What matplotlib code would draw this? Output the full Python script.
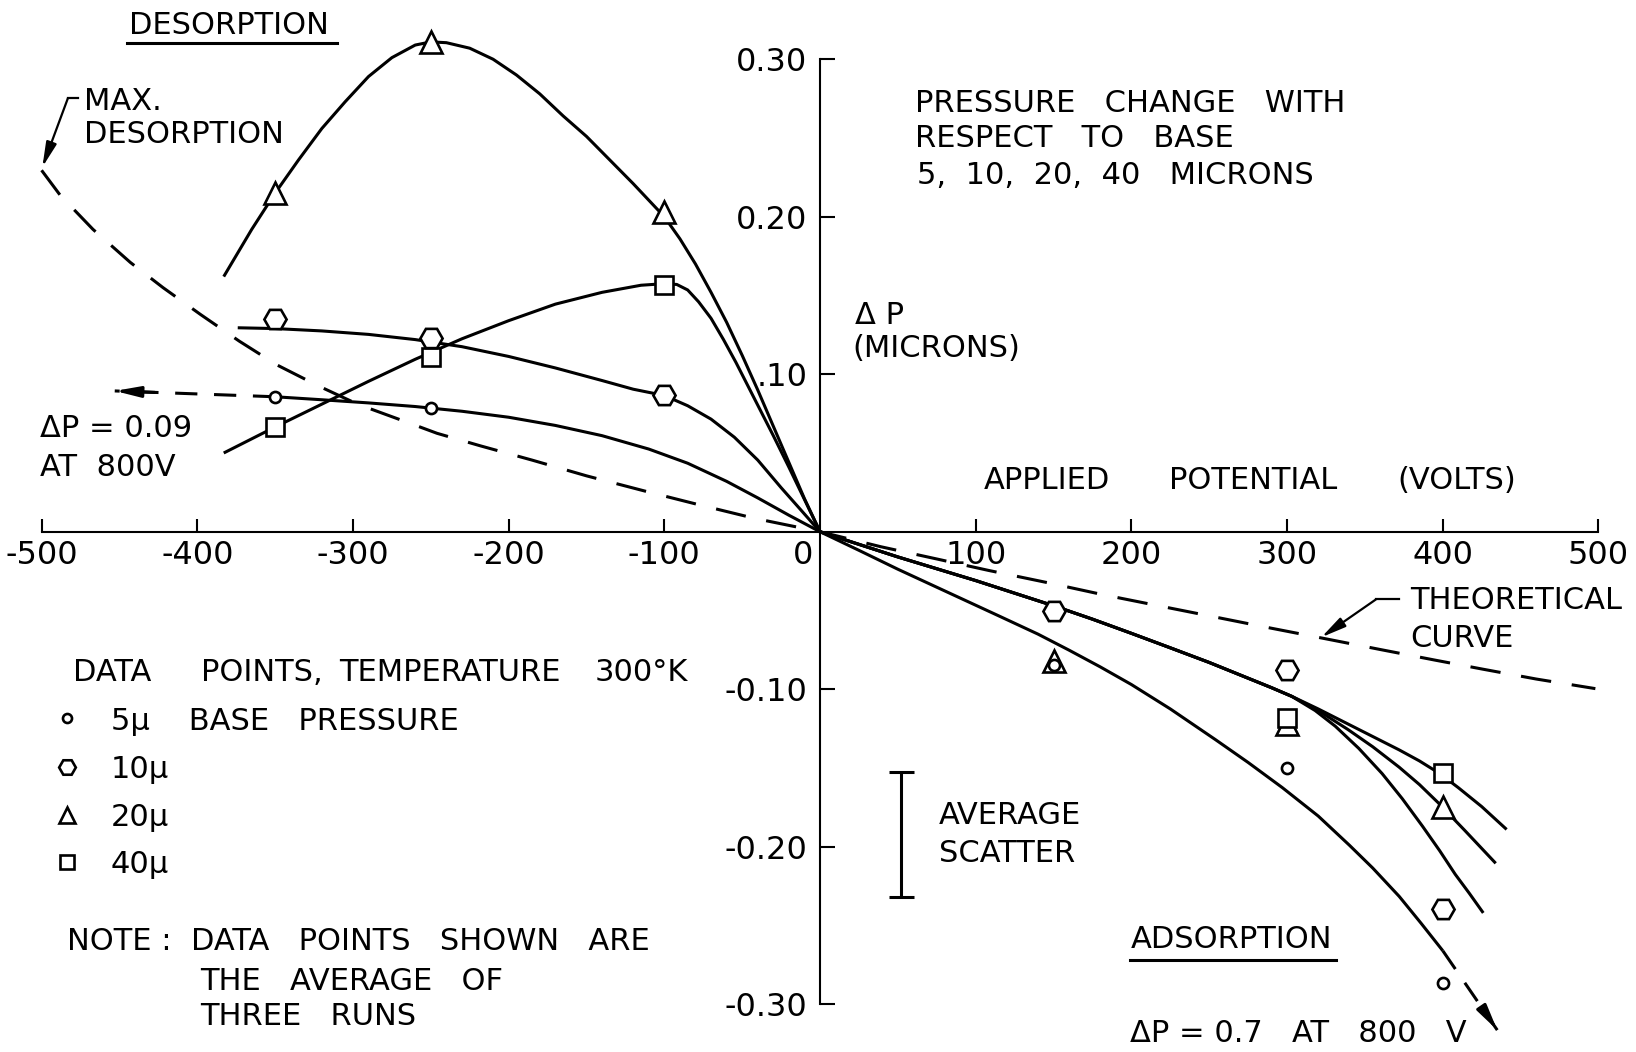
import matplotlib
matplotlib.use("Agg")
import matplotlib.pyplot as plt
from matplotlib import transforms

plt.rcParams["font.family"] = "DejaVu Sans"
plt.rcParams["lines.scale_dashes"] = False

# ---- data (volts, microns) ----
theory_v = [-500, -488, -467, -443, -422, -398, -373, -349, -322, -297, -261, -246, -218,
            -185, -150, -112, -78, -42, 0, 39, 76, 108, 147, 181, 220, 248, 286, 325,
            360, 395, 426, 460, 498]
theory_dp = [0.2295, 0.2136, 0.192, 0.171, 0.155, 0.138, 0.121, 0.106, 0.0925, 0.081,
             0.068, 0.0625, 0.0545, 0.0455, 0.0355, 0.0257, 0.0172, 0.0085, 0.0, -0.0095,
             -0.0175, -0.0245, -0.0325, -0.0398, -0.0475, -0.053, -0.0605, -0.068,
             -0.0748, -0.0815, -0.0873, -0.0935, -0.0996]

# fitted curves, desorption side (negative volts)
curve5_left_v = [-350, -320, -290, -260, -230, -200, -170, -140, -110, -85, -60, -40, -20, 0]
curve5_left_dp = [0.0857, 0.0838, 0.0818, 0.0795, 0.0765, 0.0727, 0.0675, 0.061, 0.0525,
                  0.0435, 0.032, 0.0215, 0.0105, 0]
curve10_left_v = [-374, -350, -320, -290, -260, -230, -200, -170, -140, -120, -100, -85,
                  -70, -55, -40, -25, -12, 0]
curve10_left_dp = [0.1295, 0.129, 0.1275, 0.1253, 0.122, 0.1175, 0.1113, 0.104, 0.096,
                   0.0905, 0.0865, 0.080, 0.0715, 0.060, 0.0455, 0.028, 0.0135, 0]
curve20_left_v = [-383, -365, -350, -335, -320, -305, -290, -275, -260, -250, -240, -225,
                  -210, -195, -180, -165, -150, -135, -120, -100, -90, -80, -70, -60, -50,
                  -40, -30, -20, -10, 0]
curve20_left_dp = [0.162, 0.192, 0.215, 0.236, 0.256, 0.273, 0.289, 0.301, 0.309, 0.311,
                   0.3105, 0.307, 0.300, 0.290, 0.278, 0.264, 0.251, 0.236, 0.221, 0.200,
                   0.186, 0.170, 0.152, 0.133, 0.112, 0.090, 0.067, 0.044, 0.021, 0]
curve40_left_v = [-383, -350, -320, -290, -260, -230, -200, -170, -140, -115, -100, -92,
                  -85, -78, -70, -62, -54, -46, -38, -30, -20, -10, 0]
curve40_left_dp = [0.050, 0.0665, 0.081, 0.0955, 0.1095, 0.1225, 0.134, 0.1445, 0.152,
                   0.1565, 0.1575, 0.157, 0.1535, 0.146, 0.1355, 0.122, 0.1075, 0.092,
                   0.0765, 0.061, 0.041, 0.0205, 0]

# fitted curves, adsorption side (positive volts)
curve5_right_v = [0, 25, 50, 85, 115, 140, 160, 180, 200, 225, 254, 275, 297, 320, 340,
                  355, 372, 386, 400]
curve5_right_dp = [0, -0.0118, -0.0238, -0.0398, -0.0535, -0.065, -0.0752, -0.0858, -0.097,
                   -0.1125, -0.132, -0.1465, -0.1625, -0.1805, -0.199, -0.2135, -0.2315,
                   -0.2485, -0.266]
curve10_right_v = [0, 25, 50, 75, 100, 125, 150, 175, 200, 225, 250, 275, 290, 303, 318,
                   331, 346, 361, 374, 387, 398, 408, 417, 426]
curve10_right_dp = [0, -0.008, -0.016, -0.0235, -0.031, -0.039, -0.047, -0.0555, -0.0645,
                    -0.0737, -0.083, -0.093, -0.099, -0.1045, -0.1135, -0.1235, -0.1375,
                    -0.1535, -0.1695, -0.187, -0.2025, -0.2175, -0.2295, -0.242]
curve20_right_v = [0, 25, 50, 75, 100, 125, 150, 175, 200, 225, 250, 275, 290, 303, 320,
                   339, 355, 372, 385, 397, 414, 434]
curve20_right_dp = [0, -0.008, -0.016, -0.0235, -0.031, -0.039, -0.047, -0.0555, -0.0645,
                    -0.0737, -0.083, -0.093, -0.099, -0.1045, -0.1135, -0.1255, -0.1365,
                    -0.1495, -0.1605, -0.172, -0.1895, -0.2105]
curve40_right_v = [0, 25, 50, 75, 100, 125, 150, 175, 200, 225, 250, 275, 290, 303, 320,
                   339, 355, 372, 385, 398, 410, 425, 441]
curve40_right_dp = [0, -0.008, -0.016, -0.0235, -0.031, -0.039, -0.047, -0.0555, -0.0645,
                    -0.0737, -0.083, -0.093, -0.099, -0.1045, -0.1125, -0.122, -0.130,
                    -0.1385, -0.1455, -0.1535, -0.1625, -0.1745, -0.189]

# dashed extrapolations to the 800 V values
ext5_left_v = [-350, -453]
ext5_left_dp = [0.0857, 0.0894]
ext5_right_v = [400, 435]
ext5_right_dp = [-0.266, -0.3164]

# data points (average of three runs)
pts5_v = [-350, -250, 150, 300, 400]
pts5_dp = [0.0857, 0.0783, -0.0846, -0.150, -0.2867]
pts10_v = [-350, -250, -100, 150, 300, 400]
pts10_dp = [0.135, 0.1228, 0.0868, -0.0503, -0.0878, -0.2398]
pts20_v = [-350, -250, -100, 150, 300, 400]
pts20_dp = [0.2149, 0.3111, 0.2032, -0.082, -0.122, -0.175]
pts40_v = [-350, -250, -100, 300, 400]
pts40_dp = [0.0667, 0.1111, 0.1566, -0.1185, -0.153]

scatter_v = 52
scatter_lo, scatter_hi = -0.2317, -0.1524

x_ticks = [-500, -400, -300, -200, -100, 100, 200, 300, 400, 500]
x_tick_labels = ["-500", "-400", "-300", "-200", "-100", "100", "200", "300", "400", "500"]
y_ticks = [-0.30, -0.20, -0.10, 0.10, 0.20, 0.30]
y_tick_labels = ["-0.30", "-0.20", "-0.10", ".10", "0.20", "0.30"]

FS = 22
TFS = 23
LW = 2.2
DASH = (22, 15)

fig = plt.figure(figsize=(16.36, 10.52), dpi=100)
ax = fig.add_axes([0, 0, 1, 1])
ax.set_xlim(-526.7, 524.1)
ax.set_ylim(-0.3303, 0.3376)

for side in ("top", "right"):
    ax.spines[side].set_visible(False)
ax.spines["left"].set_position(("data", 0))
ax.spines["bottom"].set_position(("data", 0))
ax.spines["left"].set_bounds(-0.30, 0.30)
ax.spines["bottom"].set_bounds(-500, 500)
ax.spines["left"].set_linewidth(1.5)
ax.spines["bottom"].set_linewidth(1.5)

ax.set_xticks(x_ticks)
ax.set_xticklabels(x_tick_labels)
ax.set_yticks(y_ticks)
ax.set_yticklabels(y_tick_labels)
ax.tick_params(axis="x", direction="in", length=9.5, width=1.5, pad=6, labelsize=TFS)
ax.tick_params(axis="y", direction="in", length=11, width=1.5, pad=9, labelsize=TFS)
ax.text(-10.6, 0, "0", fontsize=TFS, ha="center", va="top",
        transform=transforms.offset_copy(ax.transData, fig=fig, y=-6, units="points"))

# curves
ax.plot(theory_v, theory_dp, color="k", lw=LW, dashes=DASH)
for v, dp in [(curve5_left_v, curve5_left_dp), (curve10_left_v, curve10_left_dp),
              (curve20_left_v, curve20_left_dp), (curve40_left_v, curve40_left_dp),
              (curve5_right_v, curve5_right_dp), (curve10_right_v, curve10_right_dp),
              (curve20_right_v, curve20_right_dp), (curve40_right_v, curve40_right_dp)]:
    ax.plot(v, dp, color="k", lw=LW, solid_joinstyle="round", solid_capstyle="butt")

head = dict(arrowstyle="-|>,head_length=0.75,head_width=0.16", mutation_scale=20,
            color="k", lw=LW, shrinkA=0, shrinkB=0)
for v, dp in [(ext5_left_v, ext5_left_dp), (ext5_right_v, ext5_right_dp)]:
    ax.plot(v, dp, color="k", lw=LW, dashes=(16, 12))
    tail = (v[-1] - 0.25 * (v[-1] - v[0]), dp[-1] - 0.25 * (dp[-1] - dp[0]))
    ax.annotate("", xy=(v[-1], dp[-1]), xytext=tail, arrowprops=head)

# data points
mk = dict(color="k", mfc="white", mec="k", mew=1.9, ls="none", zorder=4)
ax.plot(pts20_v, pts20_dp, marker="^", ms=16, **mk)
ax.plot(pts40_v, pts40_dp, marker="s", ms=13.5, **mk)
ax.plot(pts10_v, pts10_dp, marker="H", ms=16, **mk)
ax.plot(pts5_v, pts5_dp, marker="o", ms=8, **mk)

# average scatter bar
ax.errorbar([scatter_v], [(scatter_lo + scatter_hi) / 2], yerr=[(scatter_hi - scatter_lo) / 2],
            color="k", elinewidth=LW, capsize=9, capthick=LW)

# text (y values are cap-height centres)
cap = transforms.offset_copy(ax.transData, fig=fig, y=-0.365 * FS, units="points")


def label(x, y, s, ha="left"):
    ax.text(x, y, s, fontsize=FS, ha=ha, va="baseline", transform=cap)


label(-444, 0.3228, "DESORPTION")
ax.plot([-445, -310], [0.3101, 0.3101], color="k", lw=LW)
label(-473, 0.2747, "MAX.")
label(-473, 0.2536, "DESORPTION")
ax.plot([-476.7, -483.1], [0.2752, 0.2752], color="k", lw=1.6)
ax.annotate("", xy=(-499.5, 0.2315), xytext=(-483.1, 0.2752),
            arrowprops=dict(head, lw=1.6))

label(-500.8, 0.0672, "ΔP = 0.09")
label(-500.8, 0.0423, "AT  800V")

label(61.1, 0.2736, "PRESSURE   CHANGE   WITH")
label(61.1, 0.2514, "RESPECT   TO   BASE")
label(62.6, 0.2279, "5,  10,  20,  40   MICRONS")
label(22.2, 0.1387, "Δ P")
label(21.0, 0.1181, "(MICRONS)")
# widely lettered lines: words placed at their centres on the original
for x, word in [(145.8, "APPLIED"), (278.5, "POTENTIAL"), (409.1, "(VOLTS)")]:
    label(x, 0.0341, word, ha="center")

label(379, -0.0421, "THEORETICAL")
label(379, -0.0661, "CURVE")
ax.plot([372, 357], [-0.043, -0.043], color="k", lw=1.6)
ax.annotate("", xy=(322, -0.067), xytext=(357, -0.043), arrowprops=dict(head, lw=1.6))

for x, word in [(-454.6, "DATA"), (-358.4, "POINTS,"), (-237.8, "TEMPERATURE"),
                (-114.5, "300°K")]:
    label(x, -0.0878, word, ha="center")
legend_marks = [("o", 6.5, "5μ    BASE   PRESSURE"), ("H", 12, "10μ"),
                ("^", 12, "20μ"), ("s", 10, "40μ")]
for (m, s, txt), y in zip(legend_marks, [-0.1185, -0.1492, -0.1799, -0.2095]):
    ax.plot([-483.4], [y], marker=m, ms=s, **mk)
    label(-455.4, y, txt)

label(-483.4, -0.2582, "NOTE :  DATA   POINTS   SHOWN   ARE")
label(-398, -0.2836, "THE   AVERAGE   OF")
label(-398, -0.3058, "THREE   RUNS")

label(76.1, -0.1783, "AVERAGE")
label(76.1, -0.2026, "SCATTER")

label(199.4, -0.2571, "ADSORPTION")
ax.plot([199.4, 331.7], [-0.272, -0.272], color="k", lw=LW)
label(199.4, -0.317, "ΔP = 0.7   AT   800   V")

fig.savefig("out.png", dpi=100, facecolor="white")
